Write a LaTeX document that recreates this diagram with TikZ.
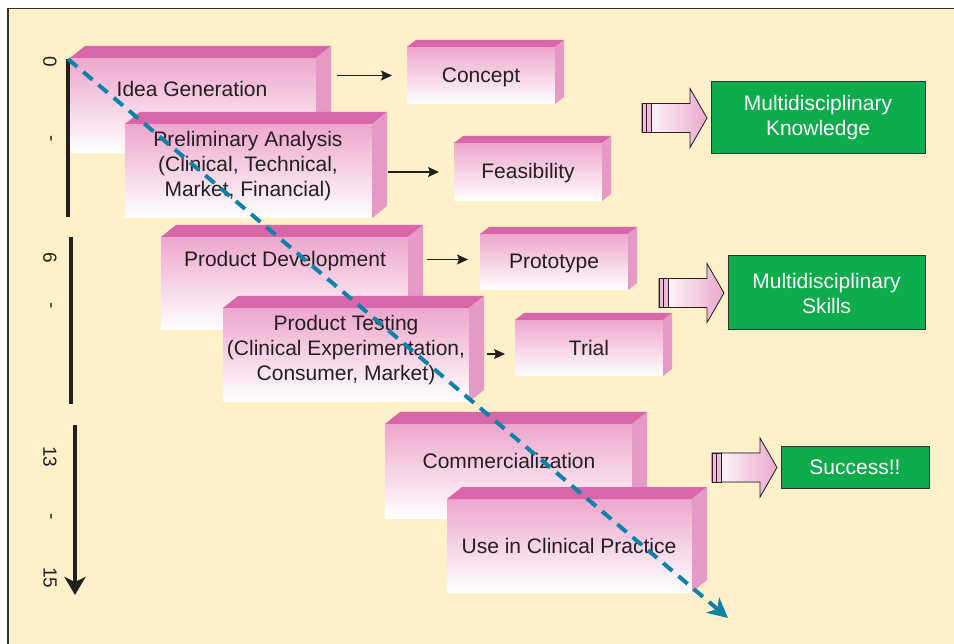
\documentclass[tikz,border=0pt]{standalone}
\usepackage{fontspec}
\setmainfont{Liberation Sans}
\usetikzlibrary{arrows.meta}
\definecolor{cream}{HTML}{FEF0C9}
\definecolor{pinkfront}{HTML}{EEA6CD}
\definecolor{pinktop}{HTML}{D966A8}
\definecolor{pinkside}{HTML}{E699C4}
\definecolor{arrowpink}{HTML}{ECA8CE}
\definecolor{textc}{HTML}{231F20}
\definecolor{gfill}{HTML}{0CAB4B}
\definecolor{gborder}{HTML}{333333}
\definecolor{dashblue}{HTML}{0A82A8}
\definecolor{framec}{HTML}{333333}
\newcommand\mkprism[7]{%
  \node[front,minimum width=#4pt,minimum height=#5pt] (#1) at (#2,#3) {};
  \fill[pinktop] (#1.north west) -- ++(#6,-#7) -- ++(#4,0) -- (#1.north east) -- cycle;
  \fill[pinkside] (#1.north east) -- ++(#6,-#7) -- ++(0,#5) -- (#1.south east) -- cycle;
}
\newcommand\mkblockarrow[1]{%
  \begin{scope}[shift={(#1.west)}]
    \filldraw[draw=textc,line width=0.8pt,left color=white,right color=arrowpink]
      (-69,-14.5) -- (-21,-14.5) -- (-21,-29.5) -- (-4,0) -- (-21,29.5) -- (-21,14.5) -- (-69,14.5) -- cycle;
    \filldraw[draw=textc,line width=0.8pt,fill=arrowpink!80!white] (-69,-14.5) rectangle (-60,14.5);
    \draw[textc,line width=0.6pt] (-65,-14.5) -- (-65,14.5);
  \end{scope}
}
\begin{document}
\begin{tikzpicture}[x=1pt,y=-1pt,
  front/.style={inner sep=0pt,outer sep=0pt,top color=pinkfront,bottom color=white,anchor=north west,draw=none},
  lbl/.style={text=textc,font=\fontsize{21}{25}\selectfont,align=center,inner sep=0pt},
  greenbox/.style={draw=gborder,line width=1pt,fill=gfill,text=white,inner sep=0pt,outer sep=0pt,anchor=north west,font=\fontsize{21}{25}\selectfont,align=center},
  smallarr/.style={draw=textc,line width=1.2pt,-{Stealth[length=11pt,width=10pt,inset=2pt]}},
  timeline/.style={draw=textc,line width=4pt},
  tlabel/.style={text=textc,font=\fontsize{19}{22}\selectfont,rotate=-90,inner sep=0pt},
  dashc/.style={draw=dashblue,line width=4pt,dash pattern=on 12pt off 8pt,-{Stealth[length=20pt,width=20pt,inset=6pt]}}
]
\useasboundingbox (0,0) rectangle (954,644);
\fill[white] (0,0) rectangle (954,644);
\fill[cream] (8,8.5) rectangle (954,644);
\draw[framec,line width=1.5pt] (8,644) -- (8,8.5) -- (954,8.5);

% prisms
\mkprism{idea}{70}{58}{246}{95}{15}{12}
\mkprism{concept}{407}{47}{148}{57}{9}{7}
\mkprism{prelim}{125}{124}{247}{94}{15}{12}
\mkprism{feas}{454}{143}{148}{58}{9}{7}
\mkprism{pd}{161}{237}{247}{93}{15}{12}
\mkprism{proto}{480}{234}{148}{56}{9}{7}
\mkprism{pt}{223}{308}{246}{94}{15}{12}
\mkprism{trial}{515}{320}{148}{56}{9}{7}
\mkprism{comm}{385}{424}{247}{94}{15}{12}
\mkprism{use}{447}{499}{245}{93}{15}{12}

% labels
\node[lbl,anchor=base] (ideat) at (192,97) {Idea Generation};
\node[lbl,anchor=base] (conceptt) at (481,83) {Concept};
\node[lbl] (prelimt) at (248,166) {Preliminary Analysis\\(Clinical, Technical,\\Market, Financial)};
\node[lbl,anchor=base] (feast) at (528,179) {Feasibility};
\node[lbl,anchor=base] (pdt) at (285,267) {Product Development};
\node[lbl,anchor=base] (protot) at (554,269) {Prototype};
\node[lbl] (ptt) at (346,350) {Product Testing\\(Clinical Experimentation,\\Consumer, Market)};
\node[lbl,anchor=base] (trialt) at (589,356) {Trial};
\node[lbl,anchor=base] (commt) at (509,468) {Commercialization};
\node[lbl,anchor=base] (uset) at (569,553) {Use in Clinical Practice};

% small arrows
\draw[smallarr] ([xshift=21pt]idea.east |- concept.west) -- ([xshift=-15pt]concept.west);
\draw[smallarr] ([xshift=16pt]prelim.east |- feas.west) -- ([xshift=-15pt]feas.west);
\draw[smallarr] ([xshift=19pt,yshift=2.5pt]pd.east |- proto.west) -- ([xshift=-12pt,yshift=2.5pt]proto.west);
\draw[smallarr] ([xshift=18pt,yshift=-6pt]pt.east |- trial.west) -- ([xshift=-10pt,yshift=-6pt]trial.west);

% green boxes
\node[greenbox,minimum width=214pt,minimum height=72pt] (know) at (711,82) {Multidisciplinary\\Knowledge};
\node[greenbox,minimum width=197pt,minimum height=74pt] (skills) at (728,256) {Multidisciplinary\\Skills};
\node[greenbox,minimum width=148pt,minimum height=41pt] (success) at (781,447) {Success!!};
\mkblockarrow{know}
\mkblockarrow{skills}
\mkblockarrow{success}

% timeline
\coordinate (t1a) at (68,59); \coordinate (t1b) at (68,217);
\coordinate (t2a) at (71,237); \coordinate (t2b) at (71,404);
\coordinate (t3a) at (75,425); \coordinate (t3b) at (75,595);
\draw[timeline] (t1a) -- (t1b);
\draw[timeline] (t2a) -- (t2b);
\draw[timeline,-{Stealth[length=18pt,width=21pt,inset=5pt]}] (t3a) -- (t3b);
\node[tlabel] (l0) at (50,62) {0};
\node[tlabel] (l0d) at (49,139) {-};
\node[tlabel] (l6) at (50,258) {6};
\node[tlabel] (l6d) at (49,306) {-};
\node[tlabel] (l13) at (50,457) {13};
\node[tlabel] (l13d) at (49,517) {-};
\node[tlabel] (l15) at (50,578) {15};

% dashed path
\coordinate (dstart) at (68,59);
\coordinate (dend) at (728,618);
\draw[dashc] (dstart) -- (dend);
\end{tikzpicture}
\end{document}
